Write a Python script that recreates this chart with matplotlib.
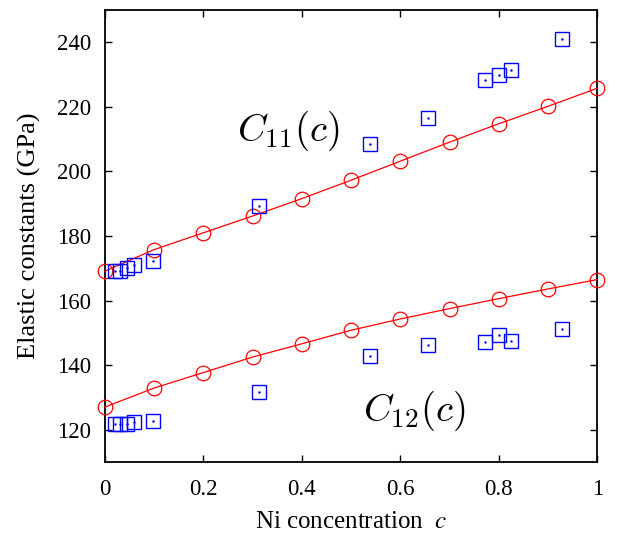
import matplotlib.pyplot as plt

plt.rcParams['font.family'] = 'Liberation Serif'

# model curves (red circles + line)
c_model = [0.0, 0.1, 0.2, 0.3, 0.4, 0.5, 0.6, 0.7, 0.8, 0.9, 1.0]
c11_model = [169.1, 175.8, 181.0, 186.2, 191.6, 197.3, 203.2, 209.1, 214.8, 220.2, 225.8]
c12_model = [127.0, 132.9, 137.7, 142.5, 146.6, 150.8, 154.3, 157.5, 160.6, 163.6, 166.5]

# experimental points (blue squares)
c_exp = [0.02, 0.03, 0.045, 0.06, 0.097, 0.312, 0.538, 0.656, 0.773, 0.801, 0.824, 0.928]
c11_exp = [169.3, 169.3, 170.1, 171.1, 172.4, 189.2, 208.6, 216.7, 228.2, 229.8, 231.6, 241.2]
c12_exp = [121.8, 121.8, 121.8, 122.3, 122.6, 131.8, 142.8, 146.2, 147.3, 149.4, 147.4, 151.1]

fig = plt.figure(figsize=(6.17, 5.34), dpi=100)
ax = fig.add_axes([0.170, 0.135, 0.798, 0.846])

for y in (c11_model, c12_model):
    ax.plot(c_model, y, color='red', lw=0.9, marker='o', ms=10.5,
            mfc='none', mec='red', mew=0.9, clip_on=False, zorder=3)

for y in (c11_exp, c12_exp):
    ax.plot(c_exp, y, ls='none', marker='s', ms=9.5, mfc='none', mec='blue',
            mew=1.0, zorder=4)
    ax.plot(c_exp, y, ls='none', marker='.', ms=1.5, color='blue', zorder=4)

ax.text(0.373, 212.6, r'$C_{11}(c)$', fontsize=28, math_fontfamily='cm',
        ha='center', va='center')
ax.text(0.628, 125.7, r'$C_{12}(c)$', fontsize=28, math_fontfamily='cm',
        ha='center', va='center')

ax.set_xlim(0, 1)
ax.set_ylim(110, 250)
ax.set_xticks([0, 0.2, 0.4, 0.6, 0.8, 1])
ax.set_xticklabels(['0', '0.2', '0.4', '0.6', '0.8', '1'])
ax.set_yticks([120, 140, 160, 180, 200, 220, 240])
ax.tick_params(direction='in', top=True, right=True, length=5, width=1,
               labelsize=16.5, pad=10)
ax.tick_params(axis='x', pad=12)
for s in ax.spines.values():
    s.set_linewidth(1.3)

ax.set_xlabel(r'Ni concentration  $c$', fontsize=18, math_fontfamily='stix',
              labelpad=8)
ax.set_ylabel('Elastic constants (GPa)', fontsize=19, labelpad=11)

fig.savefig('out.png', dpi=100)
